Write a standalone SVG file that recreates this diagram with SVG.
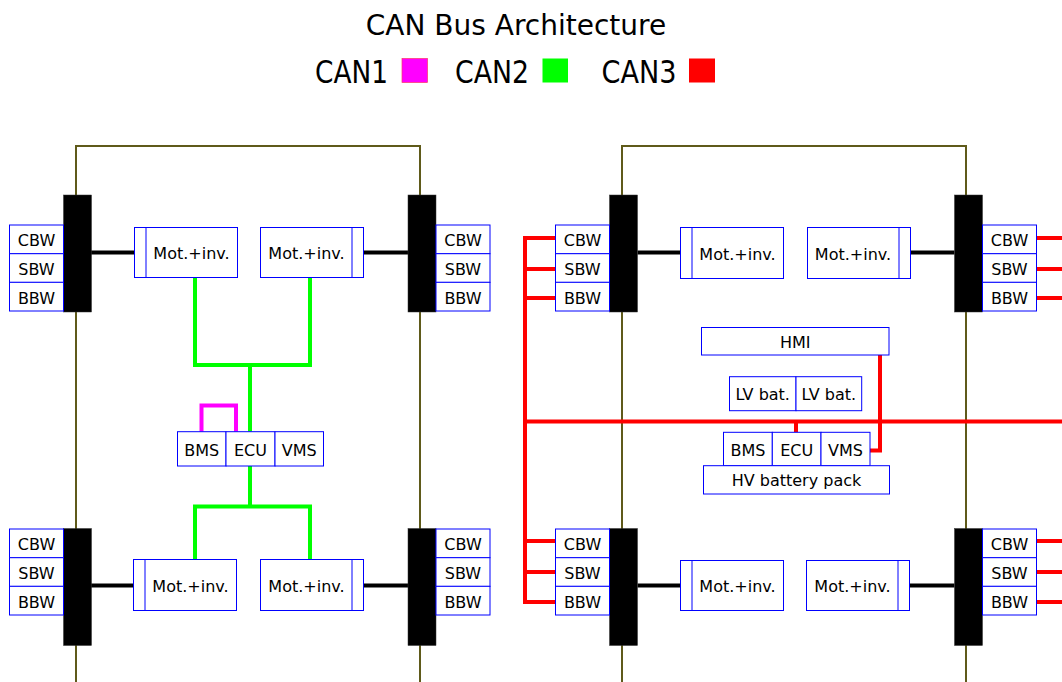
<svg xmlns="http://www.w3.org/2000/svg" width="1062" height="682" viewBox="0 0 1062 682">
<style>
text{font-family:"DejaVu Sans","Liberation Sans",sans-serif;fill:#000;text-anchor:middle}
.lbl{font-size:16px}
.box{fill:#fff;stroke:#0000ff;stroke-width:1}
.bar{fill:#000;stroke:#333;stroke-width:0.5}
.frame{fill:none;stroke:#5f5a1a;stroke-width:2}
.blk{fill:none;stroke:#000;stroke-width:4}
.can1{fill:none;stroke:#ff00ff;stroke-width:4}
.can2{fill:none;stroke:#00ff00;stroke-width:4}
.can3{fill:none;stroke:#ff0000;stroke-width:4}
</style>
<rect width="1062" height="682" fill="#fff"/>
<g id="title">
<text x="516" y="35" font-size="28">CAN Bus Architecture</text>
<text x="351.5" y="82.5" font-size="32" textLength="73" lengthAdjust="spacingAndGlyphs">CAN1</text>
<rect x="402" y="58.5" width="25.5" height="24" fill="#ff00ff" stroke="#ff3366" stroke-width="0.7"/>
<text x="492" y="82.5" font-size="32" textLength="74" lengthAdjust="spacingAndGlyphs">CAN2</text>
<rect x="542.5" y="58.5" width="25.5" height="24" fill="#00ff00"/>
<text x="639" y="82.5" font-size="32" textLength="75" lengthAdjust="spacingAndGlyphs">CAN3</text>
<rect x="689" y="58.5" width="26" height="24" fill="#ff0000"/>
</g>
<g id="frames">
<path class="frame" d="M76,682 V146 H420 V682"/>
<path class="frame" d="M622,682 V146 H966 V682"/>
</g>
<g id="connectors">
<path class="blk" d="M91,252.5 H134.5 M363.5,252.5 H408 M91,585.5 H133.5 M363.5,585.5 H408"/>
<path class="blk" d="M637.5,252.5 H680.5 M910.5,252.5 H954.5 M637.5,585.5 H680.5 M909.5,585.5 H954.5"/>
<path class="can2" d="M195,277.5 V365 H310 V277.5 M250,365 V431.7"/>
<path class="can2" d="M195,559.5 V506.5 H310 V559.5 M250,506.5 V466"/>
<path class="can1" d="M201.5,431.7 V405.5 H236 V431.7"/>
<path class="can3" d="M555.5,238 H525 M555.5,269 H525 M555.5,298 H525 M525,236 V604 M555.5,541 H525 M555.5,572 H525 M555.5,602 H525"/>
<path class="can3" d="M523,421.5 H1062 M796,421.5 V432.3"/>
<path class="can3" d="M880,355 V450.5 H870"/>
<path class="can3" d="M1036.5,238 H1062 M1036.5,269 H1062 M1036.5,298 H1062 M1036.5,541 H1062 M1036.5,572 H1062 M1036.5,602 H1062"/>
</g>
<g id="wheel-fl">
<rect class="bar" x="63.5" y="195" width="28" height="117"/>
<rect class="box" x="9.5" y="225" width="54" height="28.7"/><text class="lbl" x="36.5" y="246.3">CBW</text>
<rect class="box" x="9.5" y="253.7" width="54" height="28.7"/><text class="lbl" x="36.5" y="275">SBW</text>
<rect class="box" x="9.5" y="282.3" width="54" height="28.7"/><text class="lbl" x="36.5" y="303.6">BBW</text>
</g>
<g id="wheel-fr">
<rect class="bar" x="408" y="195" width="28" height="117"/>
<rect class="box" x="436" y="225" width="54" height="28.7"/><text class="lbl" x="463" y="246.3">CBW</text>
<rect class="box" x="436" y="253.7" width="54" height="28.7"/><text class="lbl" x="463" y="275">SBW</text>
<rect class="box" x="436" y="282.3" width="54" height="28.7"/><text class="lbl" x="463" y="303.6">BBW</text>
</g>
<g id="wheel-rl">
<rect class="bar" x="63.5" y="528.5" width="28" height="117"/>
<rect class="box" x="9.5" y="529" width="54" height="28.7"/><text class="lbl" x="36.5" y="550.3">CBW</text>
<rect class="box" x="9.5" y="557.7" width="54" height="28.7"/><text class="lbl" x="36.5" y="579">SBW</text>
<rect class="box" x="9.5" y="586.3" width="54" height="28.7"/><text class="lbl" x="36.5" y="607.6">BBW</text>
</g>
<g id="wheel-rr">
<rect class="bar" x="408" y="528.5" width="28" height="117"/>
<rect class="box" x="436" y="529" width="54" height="28.7"/><text class="lbl" x="463" y="550.3">CBW</text>
<rect class="box" x="436" y="557.7" width="54" height="28.7"/><text class="lbl" x="463" y="579">SBW</text>
<rect class="box" x="436" y="586.3" width="54" height="28.7"/><text class="lbl" x="463" y="607.6">BBW</text>
</g>
<g id="wheel2-fl">
<rect class="bar" x="609.5" y="195" width="28" height="117"/>
<rect class="box" x="555.5" y="225" width="54" height="28.7"/><text class="lbl" x="582.5" y="246.3">CBW</text>
<rect class="box" x="555.5" y="253.7" width="54" height="28.7"/><text class="lbl" x="582.5" y="275">SBW</text>
<rect class="box" x="555.5" y="282.3" width="54" height="28.7"/><text class="lbl" x="582.5" y="303.6">BBW</text>
</g>
<g id="wheel2-fr">
<rect class="bar" x="954.5" y="195" width="28" height="117"/>
<rect class="box" x="982.5" y="225" width="54" height="28.7"/><text class="lbl" x="1009.5" y="246.3">CBW</text>
<rect class="box" x="982.5" y="253.7" width="54" height="28.7"/><text class="lbl" x="1009.5" y="275">SBW</text>
<rect class="box" x="982.5" y="282.3" width="54" height="28.7"/><text class="lbl" x="1009.5" y="303.6">BBW</text>
</g>
<g id="wheel2-rl">
<rect class="bar" x="609.5" y="528.5" width="28" height="117"/>
<rect class="box" x="555.5" y="529" width="54" height="28.7"/><text class="lbl" x="582.5" y="550.3">CBW</text>
<rect class="box" x="555.5" y="557.7" width="54" height="28.7"/><text class="lbl" x="582.5" y="579">SBW</text>
<rect class="box" x="555.5" y="586.3" width="54" height="28.7"/><text class="lbl" x="582.5" y="607.6">BBW</text>
</g>
<g id="wheel2-rr">
<rect class="bar" x="954.5" y="528.5" width="28" height="117"/>
<rect class="box" x="982.5" y="529" width="54" height="28.7"/><text class="lbl" x="1009.5" y="550.3">CBW</text>
<rect class="box" x="982.5" y="557.7" width="54" height="28.7"/><text class="lbl" x="1009.5" y="579">SBW</text>
<rect class="box" x="982.5" y="586.3" width="54" height="28.7"/><text class="lbl" x="1009.5" y="607.6">BBW</text>
</g>
<g id="motor-fl">
<rect class="box" x="134.5" y="227.5" width="103" height="50"/><path class="box" d="M146,227.5 V277.5"/><text class="lbl" x="191.5" y="259">Mot.+inv.</text>
</g>
<g id="motor-fr">
<rect class="box" x="260.5" y="227.5" width="103" height="50"/><path class="box" d="M352,227.5 V277.5"/><text class="lbl" x="306.5" y="259">Mot.+inv.</text>
</g>
<g id="motor-rl">
<rect class="box" x="133.5" y="559.5" width="103" height="51"/><path class="box" d="M145,559.5 V610.5"/><text class="lbl" x="190.5" y="591.5">Mot.+inv.</text>
</g>
<g id="motor-rr">
<rect class="box" x="260.5" y="559.5" width="103" height="51"/><path class="box" d="M352,559.5 V610.5"/><text class="lbl" x="306.5" y="591.5">Mot.+inv.</text>
</g>
<g id="motor2-fl">
<rect class="box" x="680.5" y="227.5" width="103" height="51"/><path class="box" d="M692,227.5 V278.5"/><text class="lbl" x="737.5" y="259.5">Mot.+inv.</text>
</g>
<g id="motor2-fr">
<rect class="box" x="807.5" y="227.5" width="103" height="51"/><path class="box" d="M899,227.5 V278.5"/><text class="lbl" x="853" y="259.5">Mot.+inv.</text>
</g>
<g id="motor2-rl">
<rect class="box" x="680.5" y="560.5" width="103" height="50"/><path class="box" d="M692,560.5 V610.5"/><text class="lbl" x="737.5" y="592">Mot.+inv.</text>
</g>
<g id="motor2-rr">
<rect class="box" x="806.5" y="560.5" width="103" height="50"/><path class="box" d="M898,560.5 V610.5"/><text class="lbl" x="852.5" y="592">Mot.+inv.</text>
</g>
<g id="ctrl-left">
<rect class="box" x="177.5" y="431.7" width="48.5" height="34.3"/><text class="lbl" x="201.8" y="455.5">BMS</text>
<rect class="box" x="226" y="431.7" width="49" height="34.3"/><text class="lbl" x="250.5" y="455.5">ECU</text>
<rect class="box" x="275" y="431.7" width="48.5" height="34.3"/><text class="lbl" x="299.2" y="455.5">VMS</text>
</g>
<g id="hmi">
<rect class="box" x="701.5" y="327.5" width="187.5" height="27.5"/><text class="lbl" x="795.3" y="347.8">HMI</text>
</g>
<g id="lv-bat">
<rect class="box" x="729.5" y="376.7" width="66.5" height="34"/><text class="lbl" x="762.7" y="400.3">LV bat.</text>
<rect class="box" x="796" y="376.7" width="65.7" height="34"/><text class="lbl" x="828.8" y="400.3">LV bat.</text>
</g>
<g id="ctrl-right">
<rect class="box" x="723.5" y="432.3" width="48.8" height="33.4"/><text class="lbl" x="747.9" y="455.6">BMS</text>
<rect class="box" x="772.3" y="432.3" width="48.7" height="33.4"/><text class="lbl" x="796.7" y="455.6">ECU</text>
<rect class="box" x="821" y="432.3" width="49" height="33.4"/><text class="lbl" x="845.5" y="455.6">VMS</text>
</g>
<g id="hv-pack">
<rect class="box" x="703.5" y="465.7" width="186" height="28.3"/><text class="lbl" x="796.5" y="486.4">HV battery pack</text>
</g>
</svg>
